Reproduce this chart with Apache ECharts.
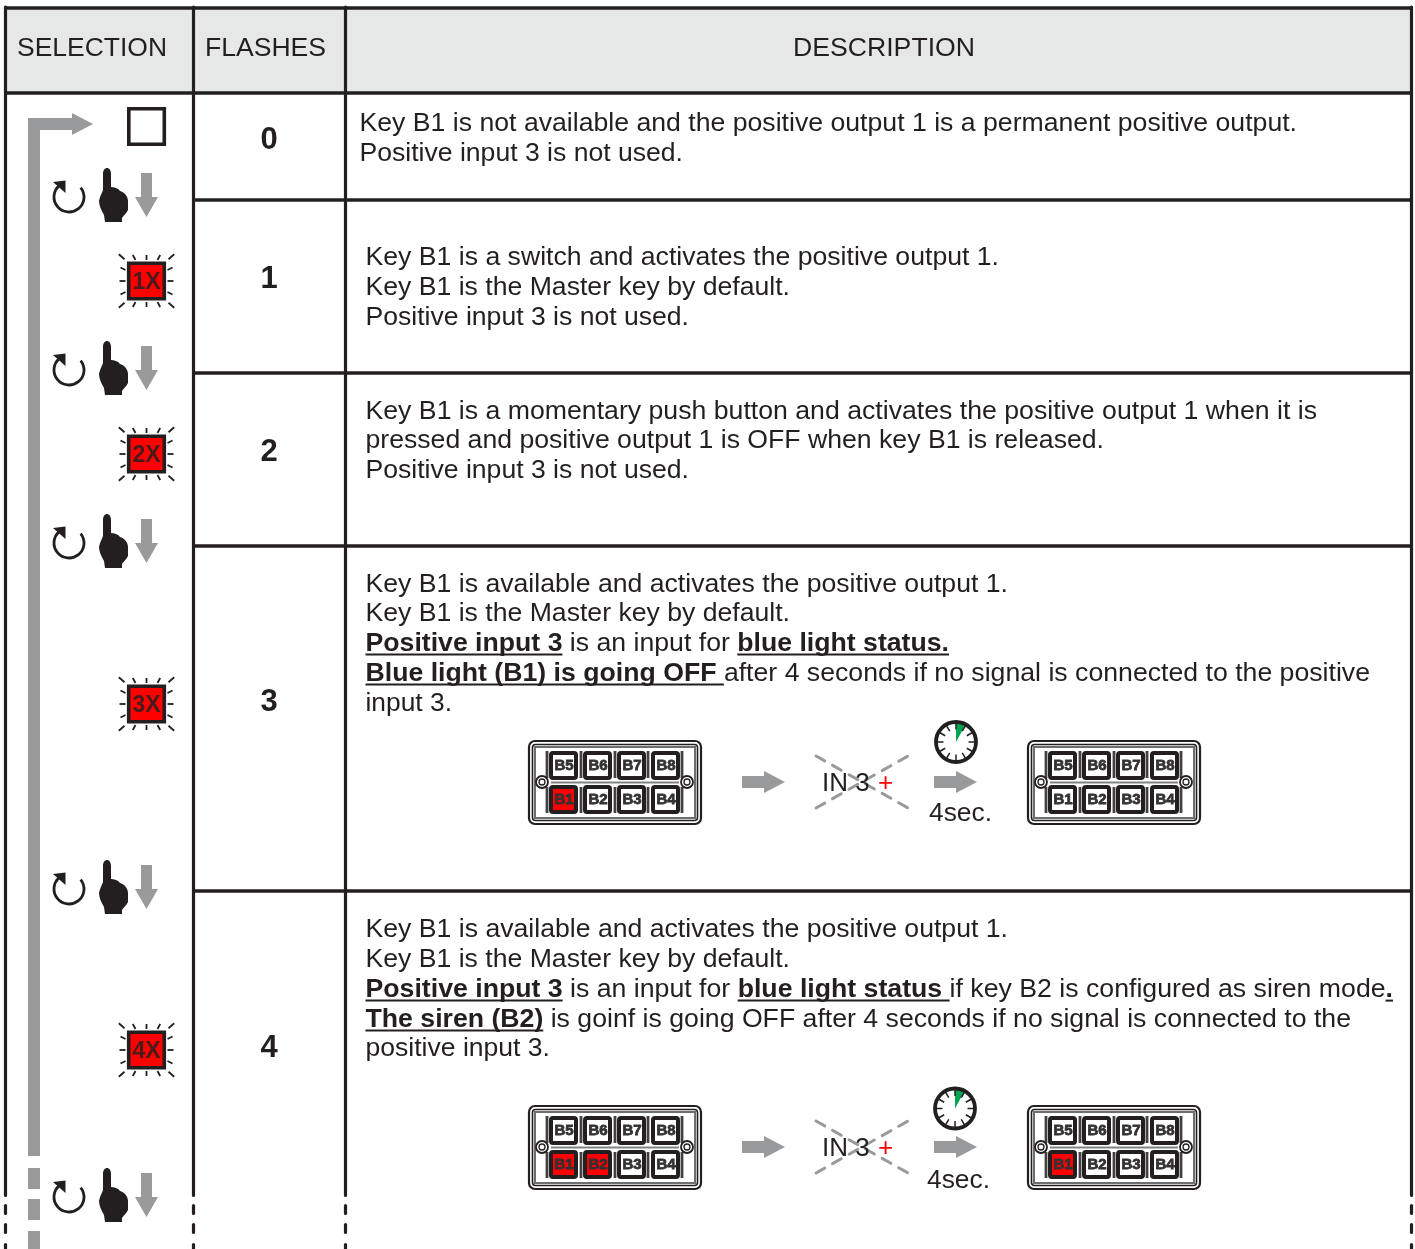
<!DOCTYPE html>
<html><head><meta charset="utf-8">
<style>html,body{margin:0;padding:0;background:#fff}#c{width:1415px;height:1249px}</style>
<script src="https://cdn.jsdelivr.net/npm/echarts@6/dist/echarts.min.js"></script>
</head><body><div id="c"></div>
<script>
// ---- content ----
const headers = [['SELECTION',17,167],['FLASHES',205,326],['DESCRIPTION',793,975]];
const hRules = [[5,1411,8],[5,1411,93],[193,1411,200],[193,1411,373],[193,1411,546],[193,1411,891]];
const vRuleX = [5.5,193.5,345.5,1411.5];
const flashes = [['0',138],['1',277],['2',450],['3',700],['4',1046]];
const blinkBoxes = [['1X',281],['2X',454],['3X',704],['4X',1050]];
const stepY = [168,341,514,860,1168];
const descLines = [
 [359.5,122,1297,[['Key B1 is not available and the positive output 1 is a permanent positive output.']]],
 [359.5,152,683,[['Positive input 3 is not used.']]],
 [365.5,256,999,[['Key B1 is a switch and activates the positive output 1.']]],
 [365.5,286,790,[['Key B1 is the Master key by default.']]],
 [365.5,316,689,[['Positive input 3 is not used.']]],
 [365.5,410,1317,[['Key B1 is a momentary push button and activates the positive output 1 when it is']]],
 [365.5,439,1104,[['pressed and positive output 1 is OFF when key B1 is released.']]],
 [365.5,469,689,[['Positive input 3 is not used.']]],
 [365.5,583,1008,[['Key B1 is available and activates the positive output 1.']]],
 [365.5,612,790,[['Key B1 is the Master key by default.']]],
 [365.5,642,949,[['Positive input 3','b'],[' is an input for '],['blue light status.','b']]],
 [365.5,672,1370,[['Blue light (B1) is going OFF ','b'],['after 4 seconds if no signal is connected to the positive']]],
 [365.5,702,452,[['input 3.']]],
 [365.5,928,1008,[['Key B1 is available and activates the positive output 1.']]],
 [365.5,958,790,[['Key B1 is the Master key by default.']]],
 [365.5,988,1393,[['Positive input 3','b'],[' is an input for '],['blue light status ','b'],['if key B2 is configured as siren mode'],['.','b']]],
 [365.5,1018,1351,[['The siren (B2)','b'],[' is goinf is going OFF after 4 seconds if no signal is connected to the']]],
 [365.5,1047,550,[['positive input 3.']]]
];
const keypads = [[529,741,['B1']],[1028,741,[]],[529,1106,['B1','B2']],[1028,1106,['B1']]];
const keyTop = ['B5','B6','B7','B8'];
const keyBottom = ['B1','B2','B3','B4'];
const flowArrows = [[742,782],[934,782],[742,1147],[934,1147]];
const crossedInputs = [[862,782],[862,1147]];
const secLabels = [['4sec.',929,992,812],['4sec.',927,990,1179]];
const clocks = [[956,742],[955,1108.5]];
const dashRuleY = [[1204,1215],[1223,1234],[1243,1254]];
const loopDashes = [[1168,1189],[1199,1220],[1231,1249]];

const INK='#231f20', GREY='#999a9c', FONT='"Liberation Sans", Arial, sans-serif';
const ctx=document.createElement('canvas').getContext('2d');
function tw(t,size,bold){ctx.font=(bold?'bold ':'')+size+'px "Liberation Sans"';return ctx.measureText(t).width;}
const LINE=26, TEXT_DY=2;

function txt(t,x,y,size,o){o=o||{};return {type:'text',style:Object.assign({text:t,x,y:y+TEXT_DY,fontSize:size,fontFamily:FONT,fontWeight:o.bold?'bold':'normal',fill:o.fill||INK,align:o.align||'left',verticalAlign:'middle',textAlign:o.align||'left',textVerticalAlign:'middle'},o.style||{})};}
function poly(pts,fill){return {type:'polygon',shape:{points:pts},style:{fill}};}
function line(a,b,c,d,lw,col,cap,dash){return {type:'line',shape:{x1:a,y1:b,x2:c,y2:d},style:{stroke:col||INK,lineWidth:lw,lineCap:cap||'butt',lineDash:dash||null,fill:null}};}
function at(api,x,y,children,extra){const p=api.coord([x,y]);return Object.assign({type:'group',x:p[0],y:p[1],children},extra||{});}
function rightArrow(){return poly([[0,-6],[22,-6],[22,-11],[43,0],[22,11],[22,6],[0,6]],GREY);}

function custom(name,data,render,z){return {type:'custom',name,coordinateSystem:'cartesian2d',data:data.map((d,i)=>[i]),encode:{x:0,y:0},silent:true,animation:false,clip:false,z:z||2,renderItem:(p,api)=>render(data[p.dataIndex],api)};}

const HAND='M4 6C4-2 12-2 12 6L12 19C15 19 19 20 21 23C25 24 29 28 29 33L29 42C27 46 24 48 23 50L23 54L6 54L5 47C2 42 0 37 0 33C1 28 3 25 4 22Z';

function keypad(api,k){
 const [x,y,red]=k; const c=[];
 c.push({type:'rect',shape:{x:0,y:0,width:172,height:83,r:6},style:{fill:'#fff',stroke:INK,lineWidth:2.2}});
 c.push({type:'rect',shape:{x:3.5,y:3.5,width:165,height:76,r:3},style:{fill:'none',stroke:INK,lineWidth:1.6}});
 c.push({type:'rect',shape:{x:6,y:6,width:160,height:71},style:{fill:'none',stroke:'#6d6e71',lineWidth:2}});
 [18,52,86,119,153].forEach(b=>{c.push(line(b,10,b,37,2.8,'#414042'));c.push(line(b,46,b,72,2.8,'#414042'));});
 c.push(line(22,41.5,150,41.5,2,'#808285'));
 [[13,41],[158,41]].forEach(s=>{
  c.push({type:'circle',shape:{cx:s[0],cy:s[1],r:6},style:{fill:'#fff',stroke:INK,lineWidth:1.8}});
  c.push({type:'circle',shape:{cx:s[0],cy:s[1],r:3},style:{fill:'#fff',stroke:INK,lineWidth:1.3}});
 });
 [[keyTop,10],[keyBottom,44]].forEach(r=>{r[0].forEach((n,i)=>{
  const bx=20+34*i;
  c.push({type:'rect',shape:{x:bx+2,y:r[1]+2,width:25,height:25,r:2},style:{fill:red.includes(n)?'#ff0000':'#fff',stroke:INK,lineWidth:4}});
  c.push(txt(n,bx+15,r[1]+13,15,{bold:true,align:'center',fill:'#333132',style:{stroke:'#333132',lineWidth:0.8}}));
 });});
 return at(api,x,y,c);
}
function clock(api,k){
 const c=[];
 c.push({type:'circle',shape:{cx:0,cy:0,r:20},style:{fill:'#fff'}});
 c.push({type:'sector',shape:{cx:0,cy:0,r0:0,r:20,startAngle:-Math.PI/2,endAngle:-Math.PI/2+0.5,clockwise:true},style:{fill:'#00a651'}});
 for(let i=0;i<12;i++){const a=i*Math.PI/6;c.push(line(Math.sin(a)*12.5,-Math.cos(a)*12.5,Math.sin(a)*19,-Math.cos(a)*19,1.5));}
 c.push({type:'circle',shape:{cx:0,cy:0,r:20},style:{fill:'none',stroke:INK,lineWidth:3.8}});
 return at(api,k[0],k[1],c);
}
function blink(api,b){
 const c=[];
 const rays=[[27.7,26.7,22,21.7],[13.7,26,11,21],[0,26,0,21],[26,13.5,21,11],[27,0,21,0]];
 const seen={};
 rays.forEach(r=>[[1,1],[1,-1],[-1,1],[-1,-1]].forEach(s=>{const key=[r[0]*s[0],r[1]*s[1]].join();if(seen[key])return;seen[key]=1;c.push(line(r[0]*s[0],r[1]*s[1],r[2]*s[0],r[3]*s[1],1.8));}));
 c.push({type:'rect',shape:{x:-17.8,y:-17.8,width:35.6,height:35.6},style:{fill:'#ff0000',stroke:INK,lineWidth:3.6}});
 c.push(txt(b[0],0,-0.5,23,{bold:true,align:'center',fill:'#4a1a1a'}));
 return at(api,146.5,b[1],c);
}
function step(api,y){
 // y is the top of the hand
 const c=[];
 c.push({type:'arc',shape:{cx:69,cy:29,r:15,startAngle:-0.68,endAngle:-2.25,clockwise:true},style:{fill:null,stroke:INK,lineWidth:2.8}});
 c.push(poly([[53,14],[65.5,12.5],[65.5,25]],INK));
 c.push({type:'path',shape:{pathData:HAND,layout:'cover',x:99,y:0,width:29,height:54},style:{fill:INK}});
 c.push(poly([[141,5],[152,5],[152,29],[158,29],[146.5,49],[135,29],[141,29]],GREY));
 return at(api,0,y,c);
}
function descLine(api,l){
 const [x,y,end,segs]=l; let w=0;const c=[];
 segs.forEach(s=>{
  const b=s[1]==='b',sw=tw(s[0],LINE,b);
  c.push(txt(s[0],w,0,LINE,{bold:b}));
  if(b)c.push({type:'rect',shape:{x:w,y:11.6,width:sw,height:2},style:{fill:INK}});
  w+=sw;
 });
 return at(api,x,y,c,{scaleX:(end-x)/w});
}
function fitted(api,t,x,end,y){return at(api,x,y,[txt(t,0,0,LINE)],{scaleX:(end-x)/tw(t,LINE,false)});}

const series=[
 custom('headerFill',[[5,8,188],[193,8,152],[346,8,1065]],(d,api)=>{const a=api.coord([d[0],d[1]]);return {type:'rect',shape:{x:a[0],y:a[1],width:d[2],height:85},style:{fill:'#e6e8e7'}};},1),
 custom('hRules',hRules,(d,api)=>{const a=api.coord([d[0],d[2]]),b=api.coord([d[1],d[2]]);return line(a[0],a[1],b[0]+2,b[1],3.6);}),
 custom('vRules',vRuleX,(d,api)=>{const a=api.coord([d,7]),b=api.coord([d,1195.5]);return {type:'group',x:a[0],y:a[1],children:[line(0,0,0,b[1]-a[1],3.2,INK,'round')]};}),
 custom('vDashes',vRuleX.flatMap(x=>dashRuleY.map(r=>[x,r[0],r[1]])),(d,api)=>{const a=api.coord([d[0],d[1]]),b=api.coord([d[0],d[2]]);return line(a[0],a[1]+1.5,b[0],b[1]-1.5,3.2,INK,'round');}),
 custom('headers',headers,(h,api)=>fitted(api,h[0],h[1],h[2],47)),
 custom('flashes',flashes,(f,api)=>{const p=api.coord([269,f[1]]);return txt(f[0],p[0],p[1],31,{bold:true,align:'center'});}),
 custom('loop',[0],(d,api)=>at(api,0,0,[
   poly([[28,118],[72,118],[72,113],[93,124],[72,135],[72,130],[40,130],[40,1156],[28,1156]],GREY)
 ])),
 custom('loopDashes',loopDashes,(d,api)=>{const a=api.coord([28,d[0]]),b=api.coord([40,d[1]]);return {type:'rect',shape:{x:a[0],y:a[1],width:b[0]-a[0],height:b[1]-a[1]},style:{fill:GREY}};}),
 custom('startBox',[0],(d,api)=>at(api,128.8,108.8,[{type:'rect',shape:{x:0,y:0,width:35.5,height:35.5},style:{fill:'#fff',stroke:INK,lineWidth:3.6}}])),
 custom('steps',stepY,(y,api)=>step(api,y)),
 custom('blink',blinkBoxes,(b,api)=>blink(api,b)),
 custom('desc',descLines,(l,api)=>descLine(api,l)),
 custom('keypads',keypads,(k,api)=>keypad(api,k)),
 custom('flowArrows',flowArrows,(a,api)=>at(api,a[0],a[1],[rightArrow()])),
 custom('crossed',crossedInputs,(k,api)=>at(api,k[0],k[1],[
   line(-46,-26,46,26,3,GREY,'round',[10,9]),
   line(-46,26,46,-26,3,GREY,'round',[10,9]),
   txt('IN 3',-40,0,26),
   txt('+',16,0,26,{fill:'#ff0000'})
 ])),
 custom('sec',secLabels,(s,api)=>fitted(api,s[0],s[1],s[2],s[3])),
 custom('clocks',clocks,(k,api)=>clock(api,k))
];

const chart=echarts.init(document.getElementById('c'),null,{renderer:'canvas',width:1415,height:1249});
chart.setOption({
 backgroundColor:'#fff',animation:false,tooltip:{show:false},legend:{show:false},
 grid:{left:0,right:0,top:0,bottom:0,containLabel:false},
 xAxis:{type:'value',min:0,max:1415,show:false},
 yAxis:{type:'value',min:0,max:1249,inverse:true,show:false},
 series
});
</script></body></html>
